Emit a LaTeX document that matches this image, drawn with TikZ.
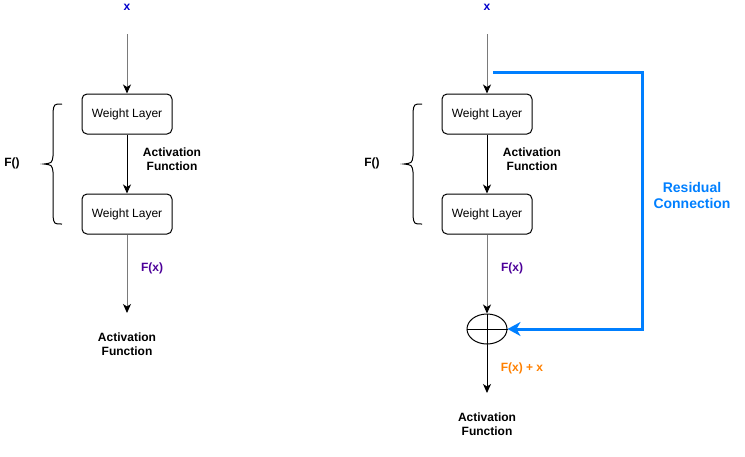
\documentclass[tikz,border=0pt]{standalone}
\usepackage{fontspec}
\setmainfont{Liberation Sans}
\usetikzlibrary{arrows.meta,shapes.geometric}
\definecolor{xblue}{HTML}{0000CC}
\definecolor{fxpurple}{HTML}{4C0099}
\definecolor{sumorange}{HTML}{FF8000}
\definecolor{resblue}{HTML}{007FFF}
\definecolor{wire}{HTML}{7A7A7A}
\tikzset{
  layer/.style={draw, rounded corners=5pt, minimum width=90pt, minimum height=40pt, font=\fontsize{12}{14}\selectfont},
  lbl/.style={font=\bfseries\fontsize{12}{14}\selectfont, align=center},
  tip/.style={-{Stealth[length=9pt,width=8pt,inset=2.5pt,black]}}
}
\begin{document}
\begin{tikzpicture}[x=1pt,y=-1pt,line width=1pt]
\useasboundingbox (0,0) rectangle (745,456);
% plain block
\node[lbl,text=xblue] (xa) at (127,7) {x};
\coordinate (xa0) at (127,34);
\node[layer] (wa1) at (127,114) {Weight Layer};
\node[layer] (wa2) at (127,214) {Weight Layer};
\coordinate (outa) at (127,313);
\draw[tip,draw=wire] (xa0) -- (wa1);
\draw[tip] (wa1) -- (wa2);
\draw[tip,draw=wire] (wa2) -- (outa);
\node[lbl] (acta) at (172,159) {Activation\\Function};
\node[lbl,text=fxpurple] (fxa) at (152,268) {F(x)};
\node[lbl] (enda) at (127,344) {Activation\\Function};
\draw (62,104) .. controls (54,104) .. (53,112) -- (53,156) .. controls (52,163) .. (44,164)
  .. controls (52,165) .. (53,172) -- (53,216) .. controls (54,224) .. (62,224);
\node[lbl] (fa) at (12,163) {F()};
% residual block
\node[lbl,text=xblue] (xb) at (487,7) {x};
\coordinate (xb0) at (487,34);
\node[layer] (wb1) at (487,114) {Weight Layer};
\node[layer] (wb2) at (487,214) {Weight Layer};
\node[draw,ellipse,minimum width=40pt,minimum height=30pt,inner sep=0pt] (sum) at (487,329) {};
\draw (sum.west) -- (sum.east);
\draw (sum.north) -- (sum.south);
\coordinate (outb) at (487,393);
\draw[tip,draw=wire] (xb0) -- (wb1);
\draw[tip] (wb1) -- (wb2);
\draw[tip,draw=wire] (wb2) -- (sum);
\draw[tip] (sum) -- (outb);
\node[lbl] (actb) at (532,159) {Activation\\Function};
\node[lbl,text=fxpurple] (fxb) at (512,268) {F(x)};
\node[lbl,text=sumorange] (fxsum) at (522,368) {F(x) + x};
\node[lbl] (endb) at (487,424) {Activation\\Function};
\draw (422,104) .. controls (414,104) .. (413,112) -- (413,156) .. controls (412,163) .. (404,164)
  .. controls (412,165) .. (413,172) -- (413,216) .. controls (414,224) .. (422,224);
\node[lbl] (fb) at (372,163) {F()};
% skip path
\coordinate (rs) at (493,72);
\coordinate (rc1) at (642,72);
\coordinate (rc2) at (642,329);
\draw[resblue,line width=3pt,-{Stealth[length=13pt,width=14pt,inset=4pt]}] (rs) -- (rc1) -- (rc2) -- (sum.east);
\node[lbl,text=resblue,font=\bfseries\fontsize{14}{16}\selectfont] (res) at (692,195) {Residual\\Connection};
\end{tikzpicture}
\end{document}
